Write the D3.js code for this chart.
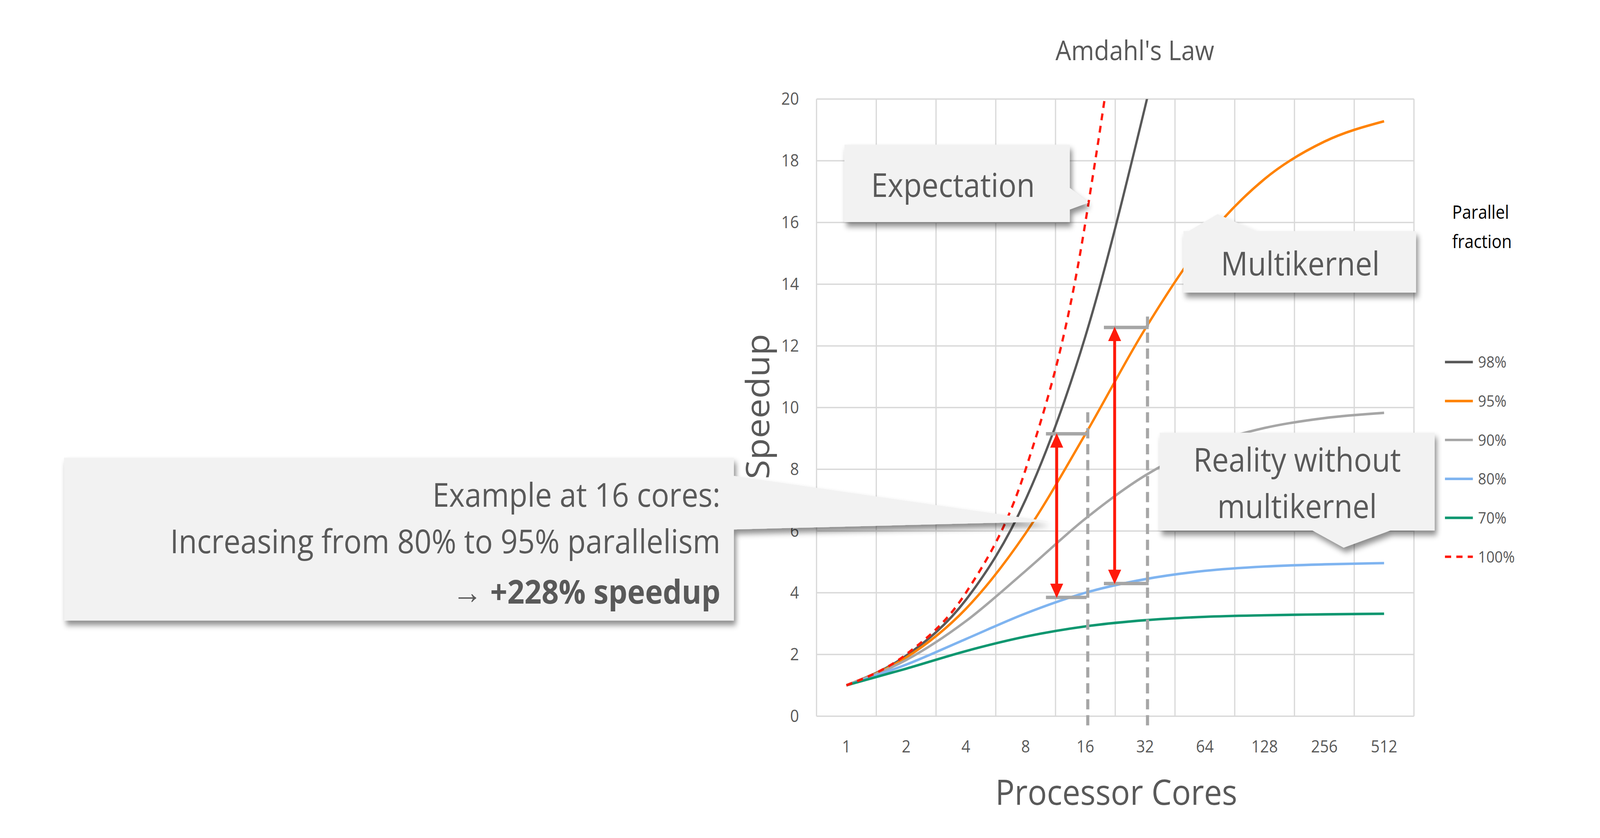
<!DOCTYPE html>
<html lang="en">
<head>
<meta charset="UTF-8">
<title>Amdahl's Law</title>
<style>
  html, body { margin: 0; padding: 0; overflow: hidden; background: #fff; }
  svg { display: block; width: 100vw; height: 100vh; }
  text { font-family: "Open Sans", "Noto Sans", sans-serif; fill: #595959; }
</style>
</head>
<body>
<svg id="chart" viewBox="0 0 1548 736" preserveAspectRatio="none"></svg>
<script src="https://d3js.org/d3.v7.min.js"></script>
<script>
// data
var cores = ["1", "2", "4", "8", "16", "32", "64", "128", "256", "512"];
var p98  = [1, 1.96, 3.77, 7.02, 12.31, 19.75, 28.32, 36.16, 42.0, 45.63];
var p95  = [1, 1.90, 3.48, 5.93, 9.14, 12.55, 15.42, 17.41, 18.62, 19.28];
var p90  = [1, 1.82, 3.08, 4.71, 6.40, 7.80, 8.77, 9.34, 9.66, 9.83];
var p80  = [1, 1.67, 2.50, 3.33, 4.00, 4.44, 4.71, 4.85, 4.92, 4.96];
var p70  = [1, 1.54, 2.11, 2.58, 2.91, 3.11, 3.22, 3.27, 3.30, 3.32];
var p100 = [1, 2, 4, 8, 16, 32, 64, 128, 256, 512];
var yTicks = [0, 2, 4, 6, 8, 10, 12, 14, 16, 18, 20];

var series = [
  {name: "98%", values: p98, color: "#595959"},
  {name: "95%", values: p95, color: "#ff8200"},
  {name: "90%", values: p90, color: "#a6a6a6"},
  {name: "80%", values: p80, color: "#7fb4f0"},
  {name: "70%", values: p70, color: "#0e9770"},
  {name: "100%", values: p100, color: "#ff1a0a", dash: "6,5"}
];

var svg = d3.select("#chart");
var L = 790, R = 1368, T = 87, B = 629;
// index scale: category i sits at its band centre
var x = d3.scaleLinear().domain([-0.5, cores.length - 0.5]).range([L, R]);
var y = d3.scaleLinear().domain([0, 20]).range([B, T]);

var defs = svg.append("defs");
defs.append("clipPath").attr("id", "plot")
  .append("rect").attr("x", L).attr("y", T).attr("width", R - L).attr("height", B - T);
defs.append("filter").attr("id", "shadow").attr("x", "-10%").attr("y", "-10%").attr("width", "130%").attr("height", "140%")
  .append("feDropShadow").attr("dx", 2).attr("dy", 4).attr("stdDeviation", 2.5)
  .attr("flood-color", "#000").attr("flood-opacity", 0.45);
defs.append("marker").attr("id", "head").attr("viewBox", "0 0 10 10")
  .attr("refX", 8).attr("refY", 5).attr("markerWidth", 4.5).attr("markerHeight", 4.5)
  .attr("orient", "auto-start-reverse")
  .append("path").attr("d", "M0,0L10,5L0,10Z").attr("fill", "#ff1a0a");

// title
svg.append("text").attr("x", 1098).attr("y", 53).attr("text-anchor", "middle")
  .attr("font-size", 24).text("Amdahl's Law");

// grid
svg.append("g").selectAll("line").data(yTicks).enter().append("line")
  .attr("x1", L).attr("x2", R).attr("y1", d => y(d)).attr("y2", d => y(d))
  .attr("stroke", "#d9d9d9").attr("stroke-width", 1.2);
svg.append("g").selectAll("line").data(d3.range(cores.length + 1)).enter().append("line")
  .attr("x1", d => x(d - 0.5)).attr("x2", d => x(d - 0.5)).attr("y1", T).attr("y2", B)
  .attr("stroke", "#d9d9d9").attr("stroke-width", 1.2);

// axes labels
svg.append("g").selectAll("text").data(yTicks).enter().append("text")
  .attr("x", 773).attr("y", d => y(d) + 5).attr("text-anchor", "end")
  .attr("font-size", 15).text(d => d);
svg.append("g").selectAll("text").data(cores).enter().append("text")
  .attr("x", (d, i) => x(i)).attr("y", 661).attr("text-anchor", "middle")
  .attr("font-size", 15).text(d => d);
svg.append("text").attr("x", 1080).attr("y", 707).attr("text-anchor", "middle")
  .attr("font-size", 31).text("Processor Cores");
svg.append("text").attr("transform", "translate(744,357) rotate(-90)").attr("text-anchor", "middle")
  .attr("font-size", 31).text("Speedup");

// series
var line = d3.line().x((d, i) => x(i)).y(d => y(d)).curve(d3.curveMonotoneX);
svg.append("g").attr("clip-path", "url(#plot)").selectAll("path").data(series).enter().append("path")
  .attr("d", d => line(d.values)).attr("fill", "none")
  .attr("stroke", d => d.color).attr("stroke-width", 2.2)
  .attr("stroke-dasharray", d => d.dash || null);

// legend
svg.append("text").attr("x", 1405).attr("y", 192).attr("font-size", 16).style("fill", "#000").text("Parallel");
svg.append("text").attr("x", 1405).attr("y", 218).attr("font-size", 16).style("fill", "#000").text("fraction");
var leg = svg.append("g").selectAll("g").data(series).enter().append("g")
  .attr("transform", (d, i) => "translate(1398," + (318 + i * 34.2) + ")");
leg.append("line").attr("x1", 0).attr("x2", 27).attr("stroke", d => d.color).attr("stroke-width", 2.2)
  .attr("stroke-dasharray", d => d.dash || null);
leg.append("text").attr("x", 32).attr("y", 5).attr("font-size", 14).text(d => d.name);

// 16/32-core markers
var gray = "#a6a6a6";
var marks = [
  {xl: 3.34, xr: 4.02, xa: 3.52, hi: 9.15, lo: 3.85, vx: 4.04, vtop: 9.85},
  {xl: 4.31, xr: 5.06, xa: 4.49, hi: 12.6, lo: 4.3, vx: 5.04, vtop: 12.95}
];
var mg = svg.append("g");
marks.forEach(function(m) {
  mg.append("line").attr("x1", x(m.vx)).attr("x2", x(m.vx)).attr("y1", y(m.vtop)).attr("y2", y(-0.4))
    .attr("stroke", gray).attr("stroke-width", 3).attr("stroke-dasharray", "9,5");
  [m.hi, m.lo].forEach(function(v) {
    mg.append("line").attr("x1", x(m.xl)).attr("x2", x(m.xr)).attr("y1", y(v)).attr("y2", y(v))
      .attr("stroke", gray).attr("stroke-width", 3);
  });
  mg.append("line").attr("x1", x(m.xa)).attr("x2", x(m.xa)).attr("y1", y(m.hi) + 2).attr("y2", y(m.lo) - 2)
    .attr("stroke", "#ff1a0a").attr("stroke-width", 2.8)
    .attr("marker-start", "url(#head)").attr("marker-end", "url(#head)");
});

// callouts
function callout(path, lines, cx, anchor, fs) {
  var g = svg.append("g");
  g.append("path").attr("d", path).attr("fill", "#f2f2f2").attr("filter", "url(#shadow)");
  lines.forEach(function(l) {
    g.append("text").attr("x", cx).attr("y", l.y).attr("text-anchor", anchor)
      .attr("font-size", fs).attr("font-weight", l.bold ? 700 : 400).text(l.t);
  });
}
callout("M817,127H1035V165L1053,178L1035,184V195H817Z",
  [{t: "Expectation", y: 173}], 922, "middle", 29);
callout("M1145,203H1150L1178,188L1215,203H1370V257H1145Z",
  [{t: "Multikernel", y: 242}], 1258, "middle", 29);
callout("M1122,380H1388V466H1345L1300,481L1270,466H1122Z",
  [{t: "Reality without", y: 414}, {t: "multikernel", y: 455}], 1255, "middle", 29);
callout("M62,402H710V418L1015,458L710,465V545H62Z",
  [{t: "Example at 16 cores:", y: 445}, {t: "Increasing from 80% to 95% parallelism", y: 486},
   {t: "\u2192 +228% speedup", y: 530, bold: true}], 697, "end", 29);
</script>
</body>
</html>
